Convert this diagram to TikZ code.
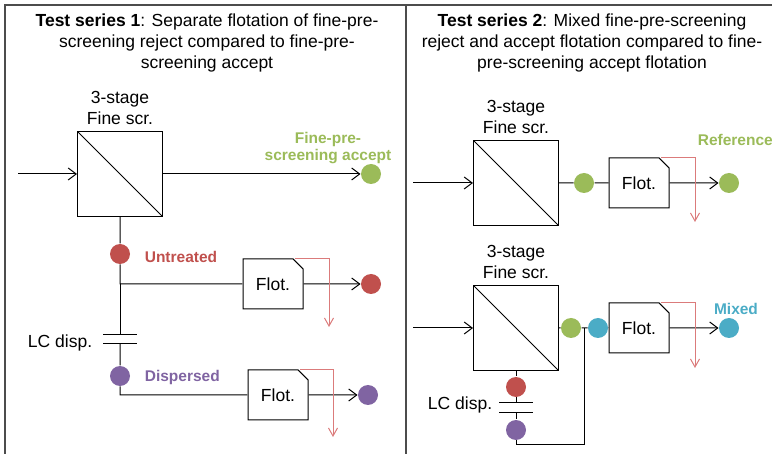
\documentclass[tikz,border=0pt]{standalone}
\usepackage{fontspec}
\setmainfont{Liberation Sans}
\usetikzlibrary{arrows.meta,shapes.misc,positioning}

\definecolor{accgreen}{HTML}{9BBB59}
\definecolor{untrred}{HTML}{C0504D}
\definecolor{disppurple}{HTML}{8064A2}
\definecolor{mixcyan}{HTML}{4BACC6}
\definecolor{rejred}{HTML}{DB7B7B}

\begin{document}
\begin{tikzpicture}[x=1pt,y=-1pt,line width=1pt,
  every node/.style={font=\fontsize{17.5}{21}\selectfont},
  screen/.style={draw, minimum size=85pt, inner sep=0pt,
    path picture={\draw (path picture bounding box.north west) -- (path picture bounding box.south east);}},
  flot/.style={draw, chamfered rectangle, chamfered rectangle corners=north east,
    chamfered rectangle xsep=8pt, minimum width=60pt, minimum height=50pt, inner sep=0pt},
  dot/.style={circle, fill=#1, minimum size=20pt, inner sep=0pt},
  lab/.style={font=\fontsize{15.5}{17}\selectfont\bfseries, text=#1, align=center},
  lcdisp/.style={minimum width=33pt, minimum height=#1, inner sep=0pt},
  flow/.style={-{Straight Barb[length=8pt,width=12pt]}},
  reject/.style={draw=rejred, -{Straight Barb[length=8pt,width=9pt]}}
]
\path[use as bounding box, clip] (0,0) rectangle (772,454);

% frame
\draw[line width=1.2pt, black!70] (5,454) -- (5,5) -- (772,5) (406,5) -- (406,454);

\node[align=center] (titleA) at (207,43) {\textbf{Test series 1}: Separate flotation of fine-pre-\\screening reject compared to fine-pre-\\screening accept};
\node[align=center] (titleB) at (592,43) {\textbf{Test series 2}: Mixed fine-pre-screening\\reject and accept flotation compared to fine-\\pre-screening accept flotation};

% test series 1
\node[screen] (scrA) at (120,174) {};
\node[align=center] (scrAtxt) at (120,108) {3-stage\\Fine scr.};
\coordinate (inA) at (18,174);
\draw[flow] (inA) -- (scrA);
\node[dot=accgreen] (accA) at (371,174) {};
\draw[flow] (scrA) -- (accA);
\node[lab=accgreen] (accAtxt) at (328,148) {Fine-pre-\\screening accept};

\node[dot=untrred] (untr) at (120,254) {};
\node[lab=untrred, right] (untrtxt) at (141,257) {Untreated};
\coordinate (brU) at (120,284);
\node[flot] (flotU) at (273,284) {Flot.};
\node[dot=untrred] (untrOut) at (371,284) {};
\draw (scrA) -- (untr) -- (brU) -- (flotU);
\draw[flow] (flotU) -- (untrOut);
\coordinate (rejU) at (329,327);
\draw[reject] ([xshift=22pt]flotU.north) -| (rejU);

\node[lcdisp=8pt] (lcA) at (120,339) {};
\draw (lcA.north west) -- (lcA.north east) (lcA.south west) -- (lcA.south east);
\node[left] (lcAtxt) at (96,343) {LC disp.};
\draw (brU) -- (lcA.north);

\node[dot=disppurple] (disp) at (120,376) {};
\node[lab=disppurple, right] (disptxt) at (141,377) {Dispersed};
\coordinate (brD) at (120,395);
\node[flot] (flotD) at (278,395) {Flot.};
\node[dot=disppurple] (dispOut) at (368,395) {};
\draw (lcA.south) -- (disp) -- (brD) -- (flotD);
\draw[flow] (flotD) -- (dispOut);
\coordinate (rejD) at (333,437);
\draw[reject] ([xshift=22pt]flotD.north) -| (rejD);

% test series 2, reference
\node[screen] (scrB) at (516,183) {};
\node[align=center] (scrBtxt) at (516,117) {3-stage\\Fine scr.};
\coordinate (inB) at (413,183);
\draw[flow] (inB) -- (scrB);
\node[dot=accgreen] (refIn) at (584,183) {};
\node[flot] (flotR) at (639,183) {Flot.};
\node[dot=accgreen] (refOut) at (729,183) {};
\node[lab=accgreen, right] (reftxt) at (694,140) {Reference};
\draw (scrB) -- (refIn) -- (flotR);
\draw[flow] (flotR) -- (refOut);
\coordinate (rejR) at (695,222);
\draw[reject] ([xshift=22pt]flotR.north) -| (rejR);

% test series 2, mixed
\node[screen] (scrC) at (516,328) {};
\node[align=center] (scrCtxt) at (516,262) {3-stage\\Fine scr.};
\coordinate (inC) at (413,328);
\draw[flow] (inC) -- (scrC);
\node[dot=accgreen] (mixG) at (571,328) {};
\node[dot=mixcyan] (mixC) at (598,328) {};
\node[flot] (flotM) at (639,328) {Flot.};
\node[dot=mixcyan] (mixOut) at (729,328) {};
\node[lab=mixcyan] (mixtxt) at (736,309) {Mixed};
\draw (scrC) -- (mixG) -- (mixC) -- (flotM);
\draw[flow] (flotM) -- (mixOut);
\coordinate (rejM) at (695,368);
\draw[reject] ([xshift=22pt]flotM.north) -| (rejM);

\node[dot=untrred] (mixU) at (516,387) {};
\node[lcdisp=9pt] (lcB) at (516,407.5) {};
\draw (lcB.north west) -- (lcB.north east) (lcB.south west) -- (lcB.south east);
\node[left] (lcBtxt) at (496,405) {LC disp.};
\node[dot=disppurple] (mixD) at (516,430) {};
\coordinate (retB) at (516,445);
\coordinate (retC) at (584,445);
\coordinate (jnC) at (584,328);
\draw (scrC) -- (mixU) -- (lcB.north) (lcB.south) -- (mixD) -- (retB) -- (retC) -- (jnC);

\end{tikzpicture}
\end{document}
